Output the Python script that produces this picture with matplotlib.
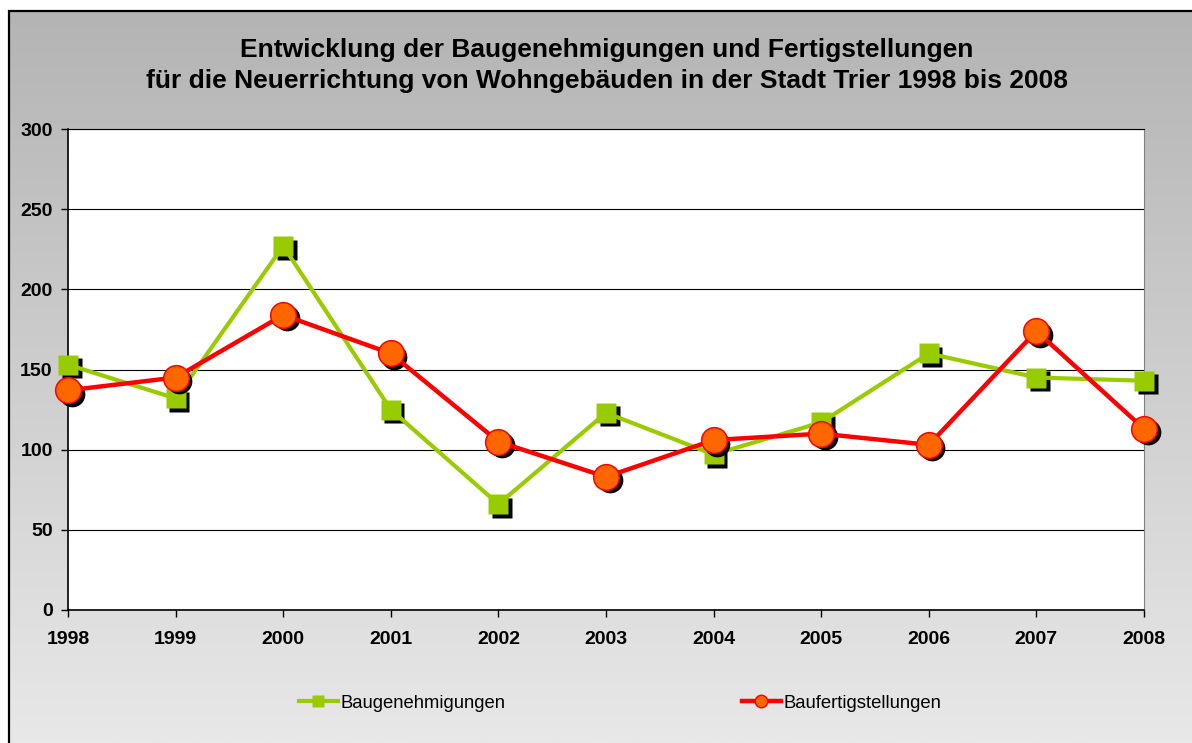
import numpy as np
import matplotlib
matplotlib.use('Agg')
import matplotlib.pyplot as plt
from matplotlib.lines import Line2D
from matplotlib.transforms import offset_copy

plt.rcParams['font.family'] = ['Liberation Sans', 'DejaVu Sans']

years = [1998, 1999, 2000, 2001, 2002, 2003, 2004, 2005, 2006, 2007, 2008]
baugenehmigungen = [153, 132, 227, 125, 66, 123, 97, 117, 160, 145, 143]
baufertigstellungen = [137, 145, 184, 160, 105, 83, 106, 110, 103, 174, 113]
yticks = [0, 50, 100, 150, 200, 250, 300]
title = ('Entwicklung der Baugenehmigungen und Fertigstellungen\n'
         'für die Neuerrichtung von Wohngebäuden in der Stadt Trier 1998 bis 2008')

W, H = 1192, 743
green = '#99cc00'
red = '#ff0000'
orange = '#ff6600'

fig = plt.figure(figsize=(W/100., H/100.), dpi=100)
fig.patch.set_facecolor('white')

# background: vertical grey gradient and frame
bg = fig.add_axes([0, 0, 1, 1], zorder=-10)
grad = np.linspace(180, 232, 256)/255.
img = np.repeat(grad[:, None, None], 3, axis=2)
bg.imshow(img, aspect='auto', extent=(9, W, H, 11), interpolation='bilinear')
bg.plot([9, 9, W], [H, 11, 11], color='black', lw=1.6, solid_joinstyle='miter')
bg.set_xlim(0, W)
bg.set_ylim(H, 0)
bg.axis('off')

ax = fig.add_axes([68/W, 1-610/H, (1144-68)/W, (610-129)/H], zorder=1)
ax.set_facecolor('white')

shadow = offset_copy(ax.transData, fig=fig, x=3.5, y=-3.5, units='dots')

ax.plot(years, baugenehmigungen, 's', color='black', ms=14.5, mec='none',
        transform=shadow, clip_on=False, zorder=3)
ax.plot(years, baugenehmigungen, '-s', color=green, lw=3, ms=14.5, mec='none',
        clip_on=False, zorder=4)
ax.plot(years, baufertigstellungen, 'o', color='black', ms=18.5, mec='none',
        transform=shadow, clip_on=False, zorder=5)
ax.plot(years, baufertigstellungen, '-o', color=red, lw=3.2, ms=18.5, mfc=orange,
        mec=red, mew=1.1, clip_on=False, zorder=6)

ax.set_xlim(1998, 2008)
ax.set_ylim(0, 300)
ax.set_xticks(years)
ax.set_yticks(yticks)
ax.yaxis.grid(True, color='black', lw=0.8)
ax.set_axisbelow(True)
for side in ['left', 'bottom']:
    ax.spines[side].set_color('black')
    ax.spines[side].set_linewidth(1.2)
ax.spines['top'].set_color('black')
ax.spines['top'].set_linewidth(0.8)
ax.spines['right'].set_color('#808080')
ax.spines['right'].set_linewidth(0.8)
ax.tick_params(axis='both', direction='out', length=5, width=1, color='black',
               labelsize=14)
ax.tick_params(axis='x', pad=10)
ax.tick_params(axis='y', pad=6)
for lab in ax.get_xticklabels() + ax.get_yticklabels():
    lab.set_fontweight('bold')

fig.text(607/W, 1-65.5/H, title, ha='center', va='center', fontsize=19,
         fontweight='bold', linespacing=1.37)

handles = [Line2D([], [], color=green, lw=3, marker='s', ms=9, mec='none'),
           Line2D([], [], color=red, lw=3.2, marker='o', ms=9, mfc=orange, mec=red, mew=1)]
leg = fig.legend(handles, ['Baugenehmigungen', 'Baufertigstellungen'], ncol=2,
                 loc='center', bbox_to_anchor=(620/W, 1-703/H), frameon=False,
                 fontsize=13.3, handlelength=2.1, handletextpad=0.15, columnspacing=12.8)

plt.savefig('out.png', dpi=100)
